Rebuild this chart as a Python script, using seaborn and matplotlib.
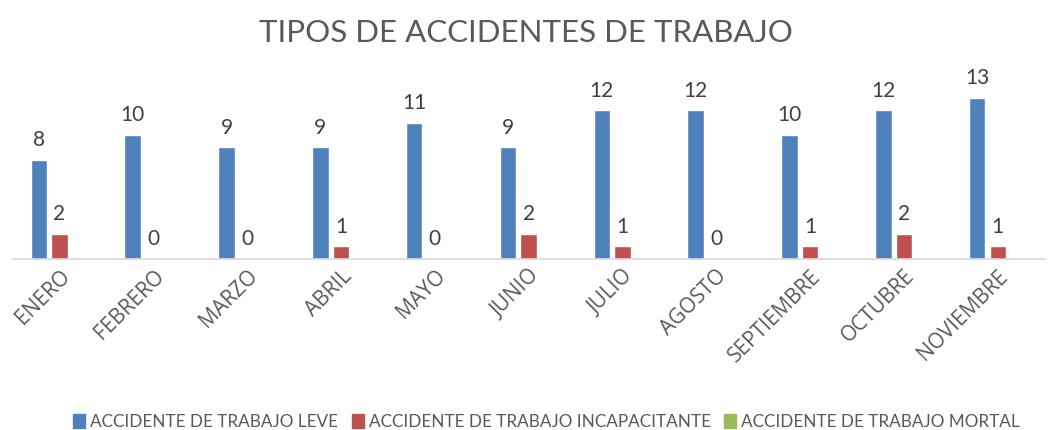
import numpy as np
import pandas as pd
import matplotlib
matplotlib.use("Agg")
import matplotlib.pyplot as plt
import seaborn as sns

meses = ["ENERO", "FEBRERO", "MARZO", "ABRIL", "MAYO", "JUNIO", "JULIO",
         "AGOSTO", "SEPTIEMBRE", "OCTUBRE", "NOVIEMBRE"]
leve = [8, 10, 9, 9, 11, 9, 12, 12, 10, 12, 13]
incapacitante = [2, 0, 0, 1, 0, 2, 1, 0, 1, 2, 1]
mortal = [0, 0, 0, 0, 0, 0, 0, 0, 0, 0, 0]

series = ["ACCIDENTE DE TRABAJO LEVE", "ACCIDENTE DE TRABAJO INCAPACITANTE",
          "ACCIDENTE DE TRABAJO MORTAL"]
colores = ["#4F81BD", "#C0504D", "#9BBB59"]

df = pd.DataFrame({
    "mes": meses * 3,
    "tipo": [series[0]] * 11 + [series[1]] * 11 + [series[2]] * 11,
    "valor": leve + incapacitante + mortal,
})

sns.set_style("white")
plt.rcParams["font.family"] = ["Lato", "DejaVu Sans"]

fig = plt.figure(figsize=(10.51, 4.30), dpi=100)
ax = fig.add_axes([0.012, 0.398, 0.982, 0.432])

sns.barplot(data=df, x="mes", y="valor", hue="tipo", hue_order=series,
            palette=colores, width=0.66, gap=0.2, ax=ax, legend=False,
            errorbar=None, saturation=1)

# etiquetas de datos (solo leve e incapacitante)
for cont in ax.containers[:2]:
    ax.bar_label(cont, padding=7, fontsize=15, color="#404040")

ax.set_ylim(0, 15)
ax.set_xlim(-0.5, 10.5)
ax.set_xlabel("")
ax.set_ylabel("")
ax.set_yticks([])
for s in ["top", "right", "left"]:
    ax.spines[s].set_visible(False)
ax.spines["bottom"].set_color("#D9D9D9")
ax.spines["bottom"].set_linewidth(1.2)
ax.tick_params(axis="x", length=0, pad=5)
plt.setp(ax.get_xticklabels(), rotation=45, ha="right",
         rotation_mode="anchor", fontsize=15, color="#595959",
         family=["Open Sans", "DejaVu Sans"])

fig.suptitle("TIPOS DE ACCIDENTES DE TRABAJO", y=0.955, fontsize=22.5,
             color="#595959")

handles = [plt.Rectangle((0, 0), 1, 1, color=c) for c in colores]
fig.legend(handles, series, loc="lower center", ncol=3, frameon=False,
           bbox_to_anchor=(0.52, -0.035), fontsize=12.3, handlelength=0.7,
           handleheight=0.9, handletextpad=0.3, columnspacing=0.8,
           labelcolor="#595959")

fig.savefig("out.png", dpi=100)
